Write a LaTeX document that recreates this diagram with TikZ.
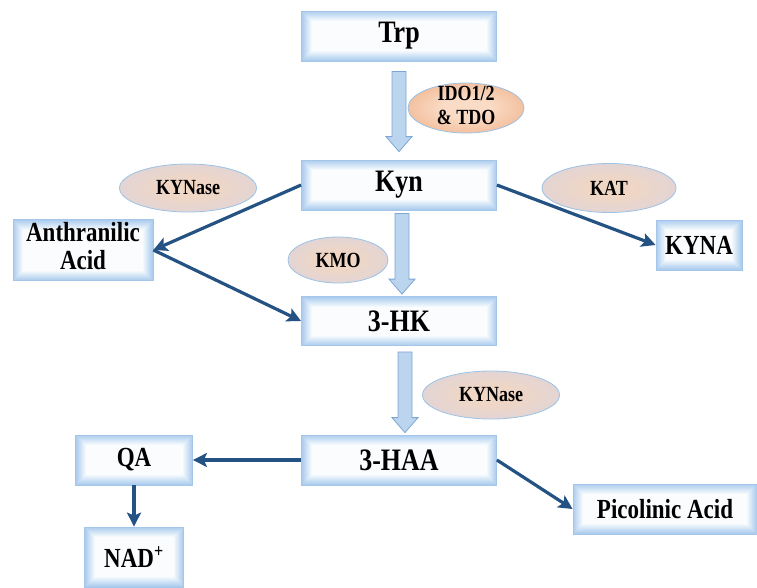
\documentclass[tikz,border=0pt]{standalone}
\usepackage{fontspec}
\setmainfont{Liberation Serif}
\usepackage{graphicx}
\usetikzlibrary{shapes.geometric,arrows.meta,calc}
\definecolor{glow}{HTML}{ACCDEE}
\definecolor{boxedge}{HTML}{A3C6EA}
\definecolor{conncol}{HTML}{245282}
\definecolor{pch}{HTML}{F0D6C4}
\definecolor{pchmid}{HTML}{E4D5D3}
\definecolor{pchedge}{HTML}{BCD2EC}
\definecolor{ido}{HTML}{FADCC6}
\definecolor{idoedge}{HTML}{EFB088}
\definecolor{elledge}{HTML}{9CC2E5}
\definecolor{bafill}{HTML}{BCD5EE}
\definecolor{baedge}{HTML}{7BA6D5}
\pgfdeclareradialshading{kynshade}{\pgfpoint{0bp}{0bp}}{color(0bp)=(pch);color(8bp)=(pch);color(24bp)=(pchmid);color(34bp)=(pchedge);color(50bp)=(pchedge)}
\pgfdeclareradialshading{idoshade}{\pgfpoint{0bp}{0bp}}{color(0bp)=(ido);color(10bp)=(ido);color(34bp)=(idoedge);color(50bp)=(idoedge)}
\newcommand{\bt}[1]{\scalebox{1}[1.2]{#1}}
\newcommand{\myblockarrow}[2]{%
  \draw[blockarrow] ($(#1)+(-7,0)$) -- ($(#2)+(-7,-15)$) -- ($(#2)+(-13,-15)$) -- (#2)
    -- ($(#2)+(13,-15)$) -- ($(#2)+(7,-15)$) -- ($(#1)+(7,0)$) -- cycle;}
\tikzset{
  gbox/.style={rectangle, draw=boxedge, line width=0.8pt, inner sep=0pt,
    font=\fontsize{26}{26}\selectfont\bfseries, align=center,
    path picture={
      \foreach \i in {0,...,10}{
        \pgfmathtruncatemacro\p{100-9.5*\i}
        \fill[glow!\p!white] ([xshift=\i*1pt,yshift=\i*1pt]path picture bounding box.south west)
          rectangle ([xshift=-\i*1pt,yshift=-\i*1pt]path picture bounding box.north east);
      }
    }},
  enz/.style={ellipse, draw=elledge, line width=0.8pt, shading=kynshade, inner sep=0pt},
  idoenz/.style={enz, shading=idoshade},
  enztext/.style={font=\fontsize{18}{20}\selectfont\bfseries, inner sep=0pt, align=center},
  conn/.style={draw=conncol, line width=3.2pt, -{Stealth[length=14pt,width=14pt,inset=3pt]}},
  blockarrow/.style={fill=bafill, draw=baedge, line width=0.8pt, line join=miter}
}
\begin{document}
\begin{tikzpicture}[x=1pt,y=-1pt]
\useasboundingbox (0,0) rectangle (757,587);
% boxes
\node[gbox, minimum width=195pt, minimum height=50pt] (trp) at (399,36) {\bt{Trp}};
\node[gbox, minimum width=195pt, minimum height=50pt] (kyn) at (399,185) {\bt{Kyn}};
\node[gbox, minimum width=195pt, minimum height=49pt] (hk) at (399,321) {\bt{3-HK}};
\node[gbox, minimum width=195pt, minimum height=50pt] (haa) at (399,460) {\bt{3-HAA}};
\node[gbox, minimum width=140pt, minimum height=61pt, font=\fontsize{23}{23}\selectfont\bfseries] (anth) at (83,250)
  {\bt{\begin{tabular}{@{}c@{}}Anthranilic\\Acid\end{tabular}}};
\node[gbox, minimum width=86pt, minimum height=50pt, font=\fontsize{23}{23}\selectfont\bfseries] (kyna) at (699,245) {\bt{KYNA}};
\node[gbox, minimum width=117pt, minimum height=50pt, font=\fontsize{23}{23}\selectfont\bfseries] (qa) at (134,460) {\bt{QA}};
\node[gbox, minimum width=99pt, minimum height=60pt, font=\fontsize{23}{23}\selectfont\bfseries] (nad) at (134,557) {\bt{NAD\textsuperscript{+}}};
\node[gbox, minimum width=184pt, minimum height=50pt, font=\fontsize{23}{23}\selectfont\bfseries] (pic) at (665,509) {\bt{Picolinic Acid}};
% enzymes
\node[idoenz, minimum width=116pt, minimum height=50pt] (ido) at (466,108) {};
\node[enztext] (idot) at (ido) {\bt{\begin{tabular}{@{}c@{}}IDO1/2\\ \& TDO\end{tabular}}};
\node[enz, minimum width=137pt, minimum height=48pt] (kyne1) at (188,188) {};
\node[enztext] (kyne1t) at (kyne1) {\bt{KYNase}};
\node[enz, minimum width=134pt, minimum height=49pt] (kat) at (609,188) {};
\node[enztext] (katt) at (kat) {\bt{KAT}};
\node[enz, minimum width=100pt, minimum height=46pt] (kmo) at (338,260) {};
\node[enztext] (kmot) at (kmo) {\bt{KMO}};
\node[enz, minimum width=137pt, minimum height=48pt] (kyne2) at (491,395) {};
\node[enztext] (kyne2t) at (kyne2) {\bt{KYNase}};
% block arrows
\coordinate (a1s) at ($(trp.south)+(0,10)$);
\coordinate (a1e) at ($(kyn.north)+(0,-8)$);
\coordinate (a2s) at ($(kyn.south)+(3,3)$);
\coordinate (a2e) at ($(hk.north)+(3,-2)$);
\coordinate (a3s) at ($(hk.south)+(6,6)$);
\coordinate (a3e) at ($(haa.north)+(6,-2)$);
\myblockarrow{a1s}{a1e}
\myblockarrow{a2s}{a2e}
\myblockarrow{a3s}{a3e}
% connectors
\draw[conn] (kyn.west) -- (anth.east);
\draw[conn] (anth.east) -- (hk.west);
\draw[conn] (kyn.east) -- (kyna.west);
\draw[conn] (haa.west) -- (qa.east);
\draw[conn] (qa.south) -- (nad.north);
\draw[conn] (haa.east) -- (pic.west);
\end{tikzpicture}
\end{document}
